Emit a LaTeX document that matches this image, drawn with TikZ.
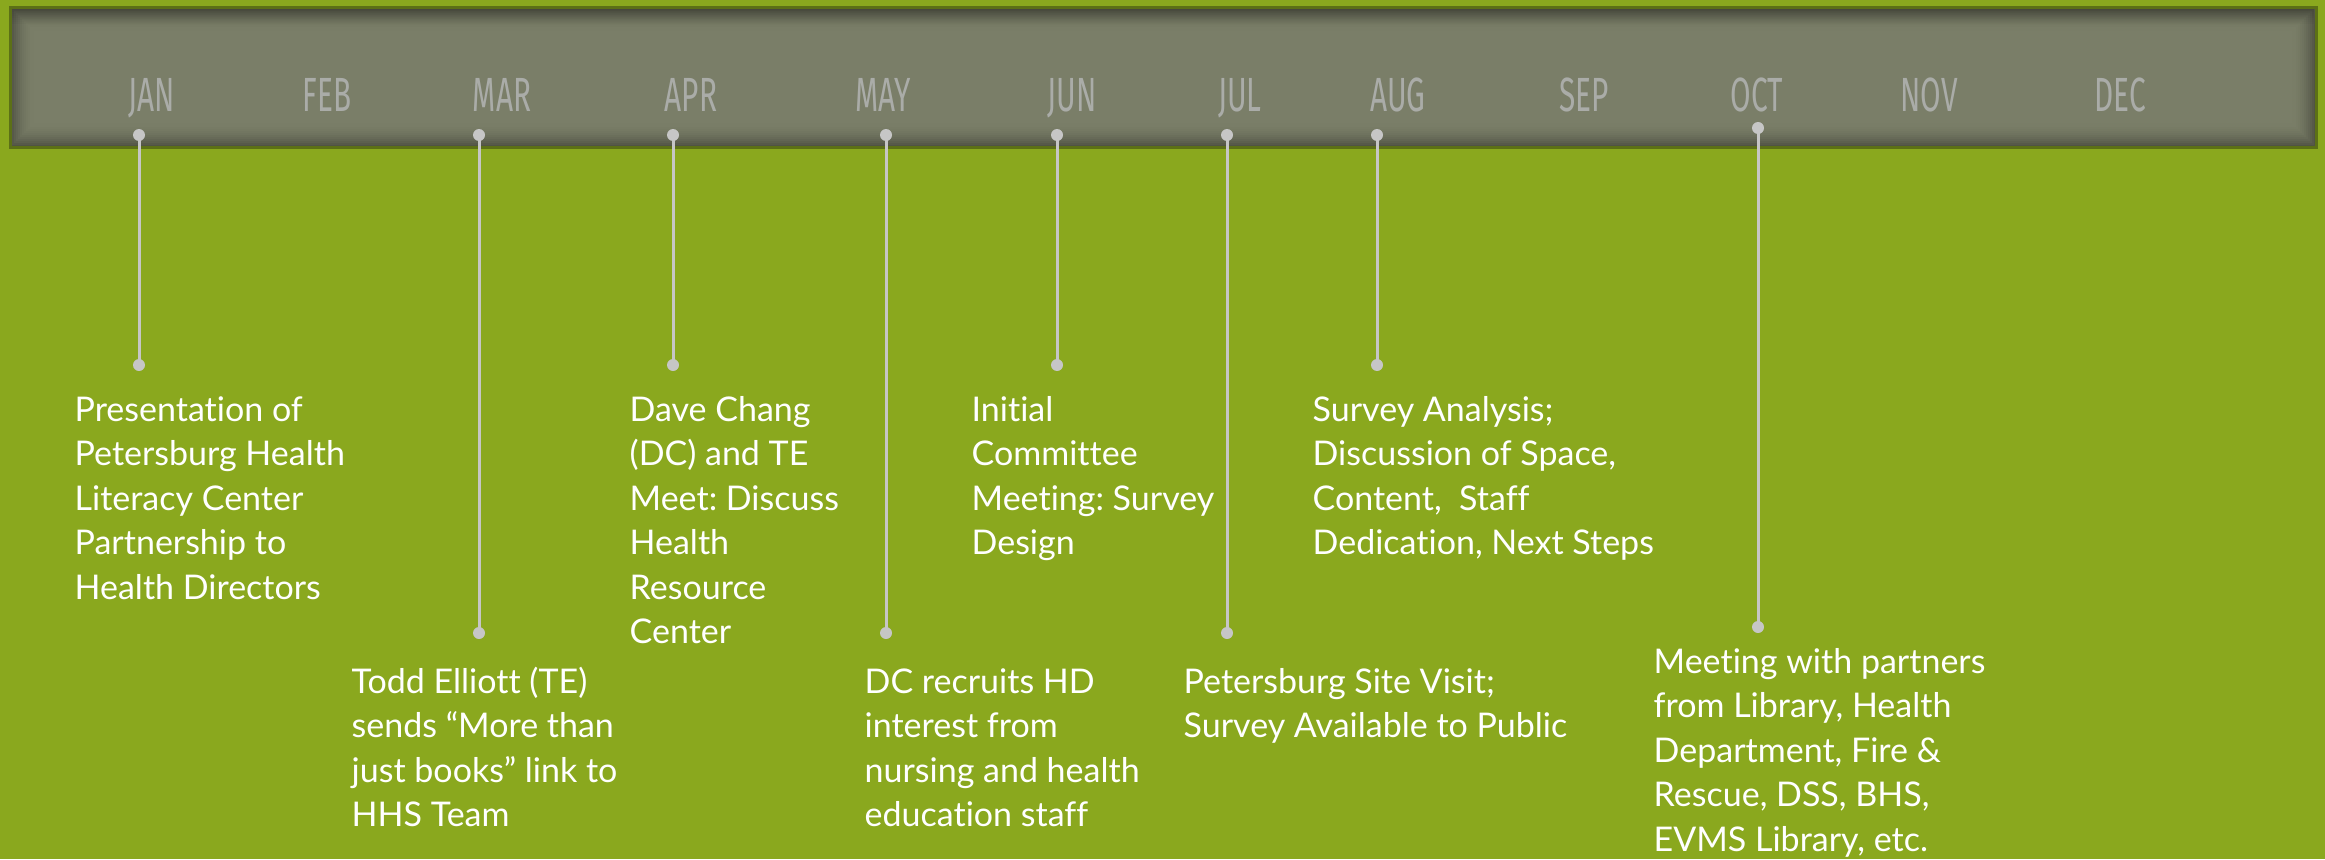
\documentclass[tikz,border=0pt]{standalone}
\usepackage{fontspec}
\setmainfont{Lato}[Ligatures={NoCommon}]
\newfontfamily\monthfont[FakeStretch=0.62]{Fira Sans}
\frenchspacing
\definecolor{bggreen}{RGB}{138,168,30}
\definecolor{barfill}{RGB}{122,126,104}
\definecolor{barborder}{RGB}{92,112,22}
\definecolor{monthgray}{RGB}{170,172,168}
\definecolor{conngray}{RGB}{198,198,198}
\newcommand\evlines[1]{\vtop{\baselineskip=13.35pt\lineskip=0pt\halign{##\hfil\cr#1\crcr}}}
\tikzset{
  month/.style={anchor=base, inner sep=0pt, text=monthgray, font=\monthfont\fontsize{14.4}{16}\selectfont},
  evt/.style={anchor=base west, inner sep=0pt, text=white, font=\fontsize{10.2}{13.35}\selectfont\frenchspacing},
  dotnode/.style={circle, fill=conngray, inner sep=0pt, minimum size=3.6pt},
  conn/.style={draw=conngray, line width=0.9pt}
}
\begin{document}
\begin{tikzpicture}[x=0.3pt,y=-0.3pt]
\useasboundingbox (0,0) rectangle (2325,859);
\fill[bggreen] (0,0) rectangle (2325,859);
% bar
\fill[barfill] (10,7) rectangle (2316,147);
\foreach \i in {0,...,11}{
  \pgfmathsetmacro\op{0.34*(1-\i/12)*(1-\i/12)}
  \draw[black, opacity=\op, line width=0.6pt] (11+2*\i,8+2*\i) rectangle (2315-2*\i,146-2*\i);
}
\foreach \i in {0,...,7}{
  \pgfmathsetmacro\op{0.18*(1-\i/8)}
  \draw[black, opacity=\op, line width=0.6pt] (12,9+2*\i) -- (2314,9+2*\i);
}
\draw[barborder, line width=0.9pt] (10,7) rectangle (2316,147);
% months
\node[month] (mJAN) at (152,111) {JAN};
\node[month] (mFEB) at (327,111) {FEB};
\node[month] (mMAR) at (502,111) {MAR};
\node[month] (mAPR) at (691,111) {APR};
\node[month] (mMAY) at (883,111) {MAY};
\node[month] (mJUN) at (1072,111) {JUN};
\node[month] (mJUL) at (1240,111) {JUL};
\node[month] (mAUG) at (1398,111) {AUG};
\node[month] (mSEP) at (1584,111) {SEP};
\node[month] (mOCT) at (1757,111) {OCT};
\node[month] (mNOV) at (1929,111) {NOV};
\node[month] (mDEC) at (2120,111) {DEC};
% connectors
\draw[conn] (139,135) coordinate (cJAN) -- (139,365) coordinate (dJAN);
\draw[conn] (479,135) coordinate (cMAR) -- (479,633) coordinate (dMAR);
\draw[conn] (673,135) coordinate (cAPR) -- (673,365) coordinate (dAPR);
\draw[conn] (886,135) coordinate (cMAY) -- (886,633) coordinate (dMAY);
\draw[conn] (1057,135) coordinate (cJUN) -- (1057,365) coordinate (dJUN);
\draw[conn] (1227,135) coordinate (cJUL) -- (1227,633) coordinate (dJUL);
\draw[conn] (1377,135) coordinate (cAUG) -- (1377,365) coordinate (dAUG);
\draw[conn] (1758,128) coordinate (cOCT) -- (1758,627) coordinate (dOCT);
\foreach \m in {JAN,MAR,APR,MAY,JUN,JUL,AUG,OCT}{
  \node[dotnode] (t\m) at (c\m) {};
  \node[dotnode] (b\m) at (d\m) {};
}
% event texts
\node[evt] (eJAN) at (74,421) {\evlines{Presentation of\cr Petersburg Health\cr Literacy Center\cr Partnership to\cr Health Directors}};
\node[evt] (eMAR) at (351,693) {\evlines{Todd Elliott (TE)\cr sends “More than\cr just books” link to\cr HHS Team}};
\node[evt] (eAPR) at (629,421) {\evlines{Dave Chang\cr (DC) and TE\cr Meet: Discuss\cr Health\cr Resource\cr Center}};
\node[evt] (eMAY) at (864,693) {\evlines{DC recruits HD\cr interest from\cr nursing and health\cr education staff}};
\node[evt] (eJUN) at (971,421) {\evlines{Initial\cr Committee\cr Meeting: Survey\cr Design}};
\node[evt] (eJUL) at (1183,693) {\evlines{Petersburg Site Visit;\cr Survey Available to Public}};
\node[evt] (eAUG) at (1312,421) {\evlines{Survey Analysis;\cr Discussion of Space,\cr Content, \ Staff\cr Dedication, Next Steps}};
\node[evt] (eOCT) at (1653,673) {\evlines{Meeting with partners\cr from Library, Health\cr Department, Fire \&\cr Rescue, DSS, BHS,\cr EVMS Library, etc.}};
\end{tikzpicture}
\end{document}
